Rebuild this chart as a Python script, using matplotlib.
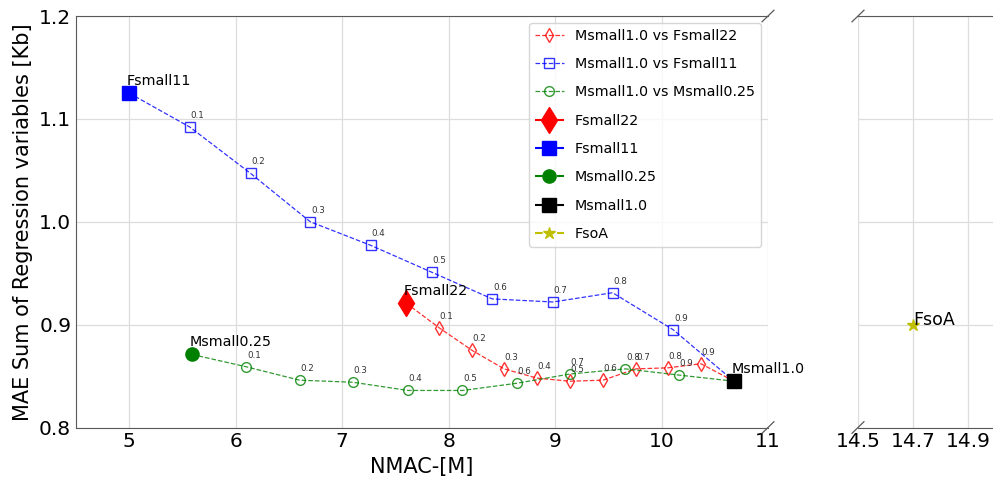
import matplotlib.pyplot as plt

# interpolation fraction labels between each model and Msmall1.0
fractions = ["0.1", "0.2", "0.3", "0.4", "0.5", "0.6", "0.7", "0.8", "0.9"]

# Msmall1.0 vs Fsmall22
red_x = [7.60, 7.91, 8.22, 8.52, 8.83, 9.14, 9.45, 9.76, 10.06, 10.37, 10.68]
red_y = [0.921, 0.897, 0.875, 0.857, 0.848, 0.845, 0.846, 0.857, 0.858, 0.862, 0.845]

# Msmall1.0 vs Fsmall11
blue_x = [5.00, 5.57, 6.14, 6.70, 7.27, 7.84, 8.41, 8.98, 9.54, 10.11, 10.68]
blue_y = [1.125, 1.092, 1.047, 1.000, 0.977, 0.951, 0.925, 0.922, 0.931, 0.895, 0.845]

# Msmall1.0 vs Msmall0.25
green_x = [5.59, 6.10, 6.60, 7.10, 7.62, 8.13, 8.64, 9.14, 9.66, 10.16, 10.68]
green_y = [0.871, 0.859, 0.846, 0.844, 0.836, 0.836, 0.843, 0.852, 0.857, 0.851, 0.845]

# single models
models = ["Fsmall22", "Fsmall11", "Msmall0.25", "Msmall1.0", "FsoA"]
model_x = [7.60, 5.00, 5.59, 10.68, 14.7]
model_y = [0.921, 1.125, 0.871, 0.845, 0.900]

fig = plt.figure(figsize=(9.93, 4.82), dpi=100)
ax = fig.add_axes([76 / 993, 1 - 427.5 / 482, 692 / 993, 411.5 / 482])
ax2 = fig.add_axes([858 / 993, 1 - 427.5 / 482, 138 / 993, 411.5 / 482])

hollow = dict(markerfacecolor="none", markersize=7, linewidth=0.9, alpha=0.8)
ax.plot(red_x, red_y, "rd--", label="Msmall1.0 vs Fsmall22", **hollow)
ax.plot(blue_x, blue_y, "bs--", label="Msmall1.0 vs Fsmall11", **hollow)
ax.plot(green_x, green_y, "go--", label="Msmall1.0 vs Msmall0.25", **hollow)

for xs, ys in [(red_x, red_y), (blue_x, blue_y), (green_x, green_y)]:
    for i, f in enumerate(fractions):
        ax.annotate(f, (xs[i + 1], ys[i + 1]), xytext=(0.5, 6.5),
                    textcoords="offset points", fontsize=6.3, color="0.2")

ax.plot(model_x[0], model_y[0], "rd--", markersize=13, label=models[0])
ax.plot(model_x[1], model_y[1], "bs--", markersize=9.5, label=models[1])
ax.plot(model_x[2], model_y[2], "go--", markersize=9.5, label=models[2])
ax.plot(model_x[3], model_y[3], "ks--", markersize=9.5, label=models[3])
ax.plot([], [], "y*--", markersize=9, label=models[4])
ax2.plot(model_x[4], model_y[4], "y*", markersize=9)

for name, x, y in zip(models[:4], model_x[:4], model_y[:4]):
    ax.annotate(name, (x, y), xytext=(-2, 6), textcoords="offset points",
                fontsize=10.3)
ax2.text(model_x[4], model_y[4], models[4], fontsize=12.5)

for a in (ax, ax2):
    a.set_ylim(0.8, 1.2)
    a.set_yticks([0.8, 0.9, 1.0, 1.1, 1.2])
    a.grid(True, color="#dddddd", linewidth=0.9)
    a.tick_params(length=0, labelsize=14.5)
    for s in a.spines.values():
        s.set_color("0.35")

ax.set_xlim(4.5, 11)
ax.set_xticks([5, 6, 7, 8, 9, 10, 11])
ax.spines["right"].set_visible(False)
ax2.set_xlim(14.5, 15.0)
ax2.set_xticks([14.5, 14.7, 14.9])
ax2.spines["left"].set_visible(False)
ax2.tick_params(labelleft=False)

# diagonal break marks
d = 0.006
kw = dict(transform=fig.transFigure, color="0.35", linewidth=0.9, clip_on=False)
for xe in (768 / 993, 858 / 993):
    for ye in (1 - 427.5 / 482, 1 - 16 / 482):
        fig.add_artist(plt.Line2D([xe - d, xe + d], [ye - 2 * d, ye + 2 * d], **kw))

ax.set_xlabel("NMAC-[M]", fontsize=15)
ax.set_ylabel("MAE Sum of Regression variables [Kb]", fontsize=15)
ax.legend(loc="upper right", fontsize=10.3, labelspacing=1.0)

fig.savefig("out.png", dpi=100)
